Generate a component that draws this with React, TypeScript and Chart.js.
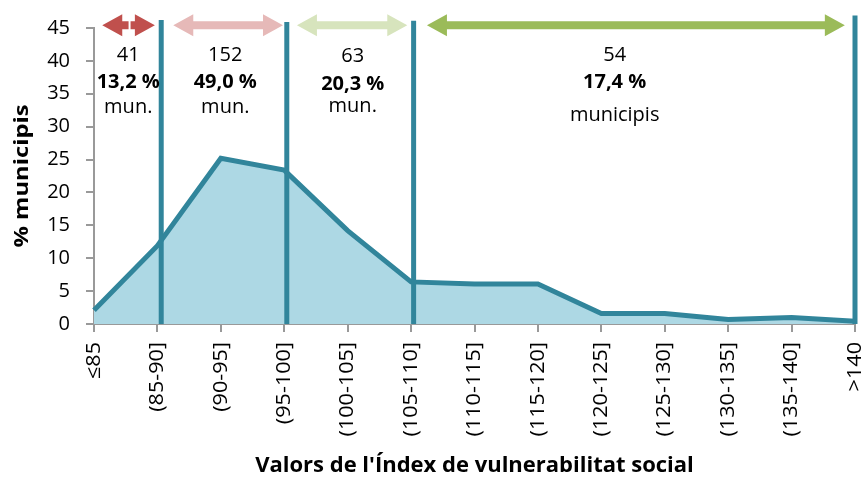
import React, { useEffect, useRef } from "react";
import { Chart, registerables } from "chart.js";

Chart.register(...registerables);

const categories = ["≤85", "(85-90]", "(90-95]", "(95-100]", "(100-105]", "(105-110]", "(110-115]", "(115-120]", "(120-125]", "(125-130]", "(130-135]", "(135-140]", ">140"];
const percentValues = [2.1, 11.9, 25.2, 23.4, 14.2, 6.4, 6.1, 6.1, 1.6, 1.6, 0.7, 1.0, 0.4];
const yTicks = [0, 5, 10, 15, 20, 25, 30, 35, 40, 45];
const yTitle = "% municipis";
const xTitle = "Valors de l'Índex de vulnerabilitat social";

// group boundaries (category index units) and tops (y units)
const boundaryX = [1.06, 3.04, 5.04, 12];
const boundaryTop = [46.2, 45.9, 46.1, 46.9];

// arrows between boundaries
const arrowFrom = [0.13, 1.25, 3.2, 5.25];
const arrowTo = [0.96, 2.98, 4.94, 11.84];
const arrowY = 45.4;
const arrowColors = ["#C0504D", "#E6B9B8", "#D7E4BD", "#9BBB59"];

// group annotations
const groupCounts = ["41", "152", "63", "54"];
const groupPercents = ["13,2 %", "49,0 %", "20,3 %", "17,4 %"];
const groupWords = ["mun.", "mun.", "mun.", "municipis"];
const groupCenterX = [0.54, 2.07, 4.08, 8.21];
const countY = [40.8, 40.8, 40.7, 40.9];
const percentY = [36.7, 36.7, 36.5, 36.7];
const wordY = [32.9, 32.9, 33.1, 31.8];

const TEAL = "#31859B";
const FILL = "#ADD8E4";
const FONT = "'Open Sans', 'Noto Sans', sans-serif";
const ROT_STRETCH = 1.08;

const overlayPlugin = {
  id: "overlay",
  afterDatasetsDraw(chart: any) {
    const ctx = chart.ctx;
    const xs = chart.scales.x;
    const ys = chart.scales.y;
    ctx.save();
    // vertical boundary lines
    ctx.strokeStyle = TEAL;
    ctx.lineWidth = 5;
    ctx.lineCap = "butt";
    boundaryX.forEach((bx, i) => {
      const px = xs.getPixelForValue(bx);
      ctx.beginPath();
      ctx.moveTo(px, ys.getPixelForValue(boundaryTop[i]));
      ctx.lineTo(px, ys.getPixelForValue(0));
      ctx.stroke();
    });
    // arrows
    const ay = ys.getPixelForValue(arrowY);
    arrowFrom.forEach((fx, i) => {
      const x1 = xs.getPixelForValue(fx);
      const x2 = xs.getPixelForValue(arrowTo[i]);
      const headL = Math.min(20, (x2 - x1) / 2.2);
      const headH = 11;
      const shaft = 4;
      ctx.fillStyle = arrowColors[i];
      ctx.beginPath();
      ctx.moveTo(x1, ay);
      ctx.lineTo(x1 + headL, ay - headH);
      ctx.lineTo(x1 + headL, ay - shaft);
      ctx.lineTo(x2 - headL, ay - shaft);
      ctx.lineTo(x2 - headL, ay - headH);
      ctx.lineTo(x2, ay);
      ctx.lineTo(x2 - headL, ay + headH);
      ctx.lineTo(x2 - headL, ay + shaft);
      ctx.lineTo(x1 + headL, ay + shaft);
      ctx.lineTo(x1 + headL, ay + headH);
      ctx.closePath();
      ctx.fill();
      if (i === 0) {
        ctx.strokeStyle = "#ffffff";
        ctx.lineWidth = 2;
        const mx = (x1 + x2) / 2 + 1;
        ctx.beginPath();
        ctx.moveTo(mx, ay - headH - 1);
        ctx.lineTo(mx, ay + headH + 1);
        ctx.stroke();
      }
    });
    // texts
    ctx.fillStyle = "#000000";
    ctx.textAlign = "center";
    ctx.textBaseline = "middle";
    groupCounts.forEach((t, i) => {
      const cx = xs.getPixelForValue(groupCenterX[i]);
      ctx.font = `20px ${FONT}`;
      ctx.fillText(t, cx, ys.getPixelForValue(countY[i]));
      ctx.font = `bold 20px ${FONT}`;
      ctx.fillText(groupPercents[i], cx, ys.getPixelForValue(percentY[i]));
      ctx.font = `20px ${FONT}`;
      ctx.fillText(groupWords[i], cx, ys.getPixelForValue(wordY[i]));
    });
    ctx.restore();
  },
  afterDraw(chart: any) {
    const ctx = chart.ctx;
    const xs = chart.scales.x;
    const ys = chart.scales.y;
    ctx.save();
    ctx.fillStyle = "#000000";
    // rotated x tick labels
    ctx.font = `20px ${FONT}`;
    ctx.textAlign = "right";
    ctx.textBaseline = "middle";
    const top = ys.getPixelForValue(0) + 18;
    categories.forEach((lab, i) => {
      const px = xs.getPixelForValue(i);
      ctx.save();
      ctx.translate(px, top);
      ctx.rotate(-Math.PI / 2);
      ctx.scale(ROT_STRETCH, 1);
      ctx.fillText(lab, 0, 0);
      ctx.restore();
    });
    // y title
    ctx.font = `bold 20px ${FONT}`;
    ctx.textAlign = "center";
    ctx.textBaseline = "middle";
    ctx.save();
    ctx.translate(22, (ys.top + ys.bottom) / 2);
    ctx.rotate(-Math.PI / 2);
    ctx.scale(1.19, 1);
    ctx.fillText(yTitle, 0, 0);
    ctx.restore();
    // x title
    ctx.font = `bold 22px ${FONT}`;
    ctx.fillText(xTitle, (xs.left + xs.right) / 2, 466);
    ctx.restore();
  },
};

export default function App() {
  const canvasRef = useRef<HTMLCanvasElement | null>(null);
  useEffect(() => {
    if (!canvasRef.current) return;
    const chart = new Chart(canvasRef.current, {
      type: "line",
      data: {
        labels: categories,
        datasets: [
          {
            data: percentValues,
            borderColor: TEAL,
            backgroundColor: FILL,
            borderWidth: 5,
            fill: "origin",
            pointRadius: 0,
            tension: 0,
            borderJoinStyle: "miter",
          },
        ],
      },
      options: {
        responsive: false,
        animation: false,
        layout: { padding: { top: 26, right: 9, left: 0, bottom: 0 } },
        plugins: { legend: { display: false }, tooltip: { enabled: false } },
        scales: {
          x: {
            type: "category",
            offset: false,
            grid: { display: true, drawOnChartArea: false, drawTicks: true, tickLength: 8, color: "#999999", lineWidth: 2 },
            border: { color: "#999999", width: 2 },
            ticks: { display: false, autoSkip: false },
            afterFit: (scale: any) => {
              scale.height = 155;
            },
          },
          y: {
            min: 0,
            max: 45,
            afterBuildTicks: (scale: any) => {
              scale.ticks = yTicks.map((v) => ({ value: v }));
            },
            grid: { display: true, drawOnChartArea: false, tickLength: 8, color: "#999999", lineWidth: 2 },
            border: { color: "#999999", width: 2 },
            ticks: {
              padding: 16,
              color: "#000000",
              font: { family: FONT, size: 20 },
            },
            afterFit: (scale: any) => {
              scale.width = 94;
            },
          },
        },
      },
      plugins: [overlayPlugin],
    });
    return () => chart.destroy();
  }, []);
  return (
    <div style={{ position: "absolute", left: 0, top: 0, width: 864, height: 479, background: "#ffffff" }}>
      <canvas ref={canvasRef} width={864} height={479} />
    </div>
  );
}
